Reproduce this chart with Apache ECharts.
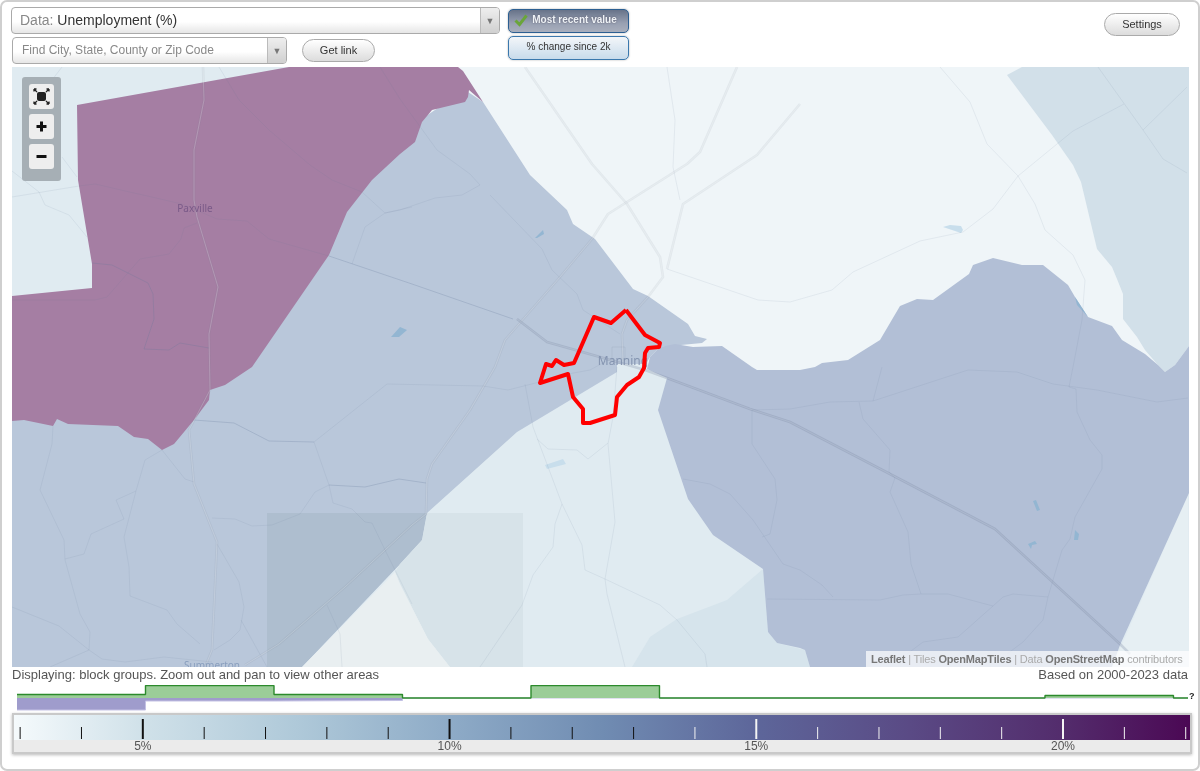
<!DOCTYPE html>
<html>
<head>
<meta charset="utf-8">
<title>Unemployment (%)</title>
<script src="https://cdn.jsdelivr.net/npm/echarts@6/dist/echarts.min.js"></script>
<style>
html, body { margin: 0; padding: 0; background: #fff; width: 1200px; height: 771px; overflow: hidden; font-family: "Liberation Sans", Arial, sans-serif; }
#frame { position: absolute; left: 0; top: 0; width: 1196px; height: 767px; border: 2px solid #cfcfcf; border-radius: 7px; }
#chart { position: absolute; left: 0; top: 0; width: 1200px; height: 771px; z-index: 2; }
.ui { position: absolute; z-index: 3; box-sizing: border-box; }
.select { border: 1px solid #aaa; border-radius: 4px; background: linear-gradient(#fff 55%, #e6e6e6); color: #888; }
.select .arrow { position: absolute; right: 0; top: 0; bottom: 0; width: 18px; border-left: 1px solid #bbb; background: linear-gradient(#eee, #d0d0d0); border-radius: 0 3px 3px 0; color: #777; font-size: 9px; text-align: center; }
.pill { border: 1px solid #aaa; border-radius: 12px; background: linear-gradient(#fff, #dcdcdc); color: #333; font-size: 11px; text-align: center; }
.toggle { border-radius: 5px; font-size: 10px; text-align: center; box-shadow: 0 0 2px #aaa; }
.zoombtn { position: absolute; left: 7px; width: 25px; height: 25px; background: #eee; border-radius: 3px; }
#colorFrame { position: absolute; left: 12px; top: 713px; width: 1176px; height: 37px; border: 2px solid #c9c9c9; background: #ebebeb; box-shadow: 0 1px 3px #bbb; z-index: 1; }
</style>
</head>
<body>
<div id="frame"></div>
<div id="colorFrame"></div>
<div id="chart"></div>

<div class="ui select" style="left:11px;top:7px;width:489px;height:27px;font-size:14px;line-height:25px;padding-left:8px;">Data: <span style="color:#333">Unemployment (%)</span><div class="arrow" style="line-height:27px;">&#9660;</div></div>
<div class="ui select" style="left:12px;top:37px;width:275px;height:27px;font-size:12px;line-height:25px;padding-left:9px;">Find City, State, County or Zip Code<div class="arrow" style="line-height:27px;">&#9660;</div></div>
<div class="ui pill" style="left:302px;top:39px;width:73px;height:23px;line-height:21px;">Get link</div>
<div class="ui toggle" style="left:508px;top:9px;width:121px;height:24px;line-height:20px;border:1.5px solid #2c5f92;background:linear-gradient(#677389,#98a0b2 60%,#a9afbd);color:#eef2f6;font-weight:bold;padding-left:12px;text-shadow:0 0 2px #556;">
  <svg width="14" height="14" viewBox="0 0 14 14" style="position:absolute;left:5px;top:3px;"><path d="M1.5 7.5 L5.5 11.5 L12.5 2.5" fill="none" stroke="#6aa53a" stroke-width="3"/></svg>Most recent value</div>
<div class="ui toggle" style="left:508px;top:36px;width:121px;height:24px;line-height:20px;border:1.5px solid #3b78ad;background:linear-gradient(#f3f6f9,#c8dbeb);color:#333;">% change since 2k</div>
<div class="ui pill" style="left:1104px;top:13px;width:76px;height:23px;line-height:21px;">Settings</div>

<div class="ui" style="left:22px;top:77px;width:39px;height:104px;background:#a6afb5;border-radius:3px;">
  <div class="zoombtn" style="top:7px;">
    <svg width="25" height="25" viewBox="0 0 25 25"><rect x="8" y="8" width="9" height="9" rx="2" fill="#222"/><path d="M5 5l3 3M5 5h2.5M5 5v2.5M20 5l-3 3M20 5h-2.5M20 5v2.5M5 20l3-3M5 20h2.5M5 20v-2.5M20 20l-3-3M20 20h-2.5M20 20v-2.5" stroke="#222" stroke-width="1.3" fill="none"/></svg>
  </div>
  <div class="zoombtn" style="top:37px;"><svg width="25" height="25" viewBox="0 0 25 25"><path d="M7.5 12.5h10M12.5 7.5v10" stroke="#111" stroke-width="3" fill="none"/></svg></div>
  <div class="zoombtn" style="top:67px;"><svg width="25" height="25" viewBox="0 0 25 25"><path d="M7.5 12.5h10" stroke="#111" stroke-width="3" fill="none"/></svg></div>
</div>

<div class="ui" style="left:866px;top:651px;width:323px;height:16px;background:rgba(255,255,255,.7);font-size:11px;letter-spacing:-0.17px;line-height:16px;padding-left:5px;color:#aaa;white-space:nowrap;">
  <b style="color:#777">Leaflet</b> | Tiles <b style="color:#777">OpenMapTiles</b> | Data <b style="color:#777">OpenStreetMap</b> contributors
</div>
<div class="ui" style="left:12px;top:667px;font-size:13px;line-height:16px;color:#555;white-space:nowrap;">Displaying: block groups. Zoom out and pan to view other areas</div>
<div class="ui" style="right:12px;top:667px;font-size:13px;line-height:16px;color:#555;white-space:nowrap;">Based on 2000-2023 data</div>
<div class="ui" style="left:1189px;top:691px;font-size:9px;line-height:11px;font-weight:bold;color:#222;">?</div>

<script>
// histogram bins, the last point closes the tail before the "?" mark
const histBins = [0, 1, 2, 3, 4, 5, 6, 7, 8, 9, 9.113]
const histPlace = [3.5, 12.4, 3.5, 0, 12.4, 0, 0, 0, 2.5, 0, 0]
const histNation = [-12, -3, -2.5, 0, 0, 0, 0, 0, 0, 0, 0]

// colour scale, in percent
const scaleStops = [2.9, 5, 7.5, 10, 12.5, 15, 17.5, 20, 22.07]
const scaleColors = ['#f5fafc', '#d0e1e9', '#afc9d9', '#8eabc7', '#708cb2', '#5d669a', '#5a4a85', '#532c6c', '#4b0854']
const scaleTicks = [3, 4, 5, 6, 7, 8, 9, 10, 11, 12, 13, 14, 15, 16, 17, 18, 19, 20, 21, 22]
const scaleLabels = [5, 10, 15, 20]

// map shapes
const baseArea = [[12, 67], [1189, 67], [1189, 667], [12, 667]]
const leftLight = [[12, 67], [300, 67], [300, 400], [12, 400]]
const bottomLight = [[617, 364], [646, 364], [667, 378], [1189, 480], [1189, 667], [300, 667], [300, 500], [500, 400]]
const eastLight = [[1188, 495], [1189, 667], [1112, 667]]
const blueArea = [[483, 102], [530, 175], [567, 210], [573, 224], [595, 239], [633, 289], [648, 296], [688, 324], [695, 336], [707, 339], [702, 343], [660, 347], [650, 357], [646, 364], [617, 364], [617, 372], [517, 432], [427, 513], [422, 540], [400, 564], [302, 667], [12, 667], [12, 400], [300, 200], [465, 90]]
const darkBlueArea = [[647, 369], [650, 357], [660, 347], [675, 344], [693, 347], [722, 346], [752, 367], [757, 370], [800, 370], [815, 367], [822, 363], [848, 360], [880, 340], [900, 306], [917, 299], [933, 300], [969, 274], [973, 265], [993, 258], [1022, 265], [1043, 265], [1068, 285], [1075, 297], [1088, 317], [1112, 326], [1122, 340], [1145, 354], [1158, 365], [1165, 372], [1175, 365], [1189, 346], [1189, 493], [1120, 645], [1112, 667], [810, 667], [805, 650], [800, 648], [777, 643], [768, 632], [763, 569], [713, 535], [688, 499], [658, 410], [667, 378]]
const southBlue = [[763, 569], [727, 600], [677, 619], [650, 637], [632, 667], [810, 667], [805, 650], [777, 643], [768, 632]]
const countyArea = [[1007, 75], [1022, 67], [1189, 67], [1189, 346], [1175, 365], [1165, 372], [1158, 365], [1145, 350], [1137, 337], [1123, 319], [1123, 294], [1117, 279], [1112, 267], [1097, 249], [1081, 182], [1073, 165], [1052, 135]]
const purpleArea = [[77, 105], [289, 67], [458, 67], [463, 71], [483, 102], [469, 90], [468, 97], [465, 102], [432, 110], [422, 122], [415, 142], [400, 154], [372, 180], [347, 212], [329, 255], [252, 367], [225, 385], [210, 390], [209, 400], [194, 420], [174, 444], [162, 450], [148, 439], [134, 437], [118, 426], [68, 424], [57, 419], [53, 426], [24, 420], [12, 421], [12, 296], [92, 288], [92, 264], [78, 180]]
const rectOverBlue = [[267, 513], [427, 513], [422, 540], [400, 564], [302, 667], [267, 667]]
const rectOverLight = [[427, 513], [523, 513], [523, 667], [450, 667], [428, 639], [400, 584], [395, 572], [400, 564], [422, 540]]
const rectOverBase = [[395, 572], [400, 584], [428, 639], [450, 667], [302, 667]]
const pondsDark = [
    [[391, 337], [400, 327], [407, 330], [399, 337]],
    [[535, 238], [543, 230], [544, 234], [537, 238]],
    [[1033, 501], [1036, 500], [1040, 510], [1037, 511]],
    [[1028, 544], [1035, 541], [1037, 544], [1032, 545], [1031, 549]],
    [[1075, 530], [1079, 534], [1078, 540], [1074, 540]],
    [[1075, 297], [1088, 317], [1077, 305]],
]
const pondsLight = [
    [[943, 227], [950, 225], [961, 226], [963, 230], [961, 233]],
    [[545, 465], [563, 459], [566, 464], [547, 469]],
]
const cityOutline = [[626, 310], [645, 335], [660, 343], [659, 347], [648, 348], [645, 353], [644, 368], [639, 377], [627, 385], [617, 397], [615, 415], [590, 423], [583, 423], [583, 409], [573, 397], [568, 374], [540, 383], [546, 364], [552, 366], [556, 360], [564, 365], [574, 363], [594, 317], [611, 323]]

// roads and boundaries
const roads = [
    [[203, 67], [204, 100], [194, 150], [194, 200], [197, 217], [218, 287], [209, 334], [210, 390], [189, 430], [194, 484], [217, 542], [212, 650], [205, 667]],
    [[525, 67], [592, 164], [627, 204], [660, 257], [663, 277], [648, 297], [627, 320], [622, 334], [623, 362]],
    [[737, 67], [700, 152], [687, 164], [627, 202], [608, 214], [592, 239], [560, 277], [505, 340], [495, 367], [470, 410], [432, 464], [427, 479], [426, 514], [412, 525], [345, 587], [279, 644], [245, 665]],
    [[800, 104], [757, 155], [683, 204], [667, 269]],
]
const highways = [
    [[517, 319], [547, 342], [600, 357], [645, 370], [667, 378], [750, 409], [790, 422], [890, 474], [995, 529], [1120, 644], [1130, 654]],
]
const strongLines = [
    [[329, 256], [412, 284], [513, 319]],
    [[92, 263], [112, 265], [148, 283], [153, 294], [154, 319], [144, 349], [169, 350], [180, 343], [209, 348]],
    [[194, 420], [234, 423], [269, 441], [314, 442]],
    [[329, 485], [365, 487], [399, 479], [426, 483]],
]
const boundaries = [
    [[12, 300], [95, 300], [107, 297], [140, 259], [169, 254], [181, 239], [184, 228], [197, 223]],
    [[12, 197], [79, 186], [95, 184], [182, 204], [217, 219], [247, 221], [269, 239], [329, 256]],
    [[219, 67], [239, 100], [269, 130], [310, 165], [332, 180], [362, 192], [385, 213], [412, 207]],
    [[380, 67], [400, 99], [437, 150], [470, 174], [480, 185], [462, 195], [435, 198], [400, 210], [385, 213], [365, 227], [352, 264]],
    [[490, 195], [542, 249], [552, 270], [577, 294], [583, 310], [620, 334]],
    [[12, 171], [39, 192], [45, 205], [69, 215], [87, 237]],
    [[62, 67], [52, 80]],
    [[62, 157], [77, 177]],
    [[12, 607], [59, 626], [89, 650], [90, 632], [80, 614], [65, 560], [64, 540], [40, 490], [52, 444], [53, 426]],
    [[65, 559], [84, 554], [91, 534], [124, 519], [116, 500], [136, 491], [145, 460], [162, 450], [185, 479], [194, 482]],
    [[136, 491], [124, 537], [129, 567], [130, 596], [167, 610], [177, 624], [200, 644]],
    [[50, 667], [89, 650], [102, 659], [125, 662], [164, 657], [212, 662]],
    [[314, 442], [387, 384], [483, 386], [508, 390], [567, 375]],
    [[314, 442], [329, 485], [333, 503], [352, 509], [365, 522], [372, 523], [385, 550], [412, 604]],
    [[329, 485], [315, 492], [300, 514], [272, 525], [252, 526], [235, 519], [212, 518]],
    [[217, 544], [239, 582], [244, 607], [240, 630], [230, 640], [214, 650]],
    [[241, 620], [267, 667]],
    [[327, 605], [340, 634], [342, 667]],
    [[525, 384], [528, 400], [533, 427], [562, 504], [582, 545], [585, 570], [605, 579], [660, 605], [677, 620], [705, 654], [707, 667]],
    [[617, 367], [613, 417], [608, 444], [615, 522], [605, 579], [607, 594], [625, 667]],
    [[562, 504], [555, 524], [553, 547], [533, 575], [522, 605], [480, 667]],
    [[537, 439], [548, 449], [577, 450], [588, 459], [608, 443]],
    [[752, 410], [752, 444], [775, 479], [777, 500], [770, 534], [762, 537]],
    [[683, 479], [710, 484], [730, 494], [753, 520], [783, 564], [800, 570], [822, 585], [833, 597]],
    [[767, 599], [880, 600], [903, 595], [921, 594], [948, 594], [993, 606], [958, 637], [923, 642], [907, 654]],
    [[752, 410], [790, 409], [830, 402], [873, 401], [968, 370], [1017, 372], [1053, 384], [1097, 390], [1157, 402], [1188, 398]],
    [[882, 367], [873, 401]],
    [[859, 402], [863, 419], [890, 450], [889, 472], [895, 478], [890, 492], [908, 532], [911, 564], [921, 594]],
    [[1073, 367], [1069, 387], [1076, 389], [1077, 412], [1090, 440], [1102, 455], [1102, 469], [1075, 517], [1070, 539], [1062, 550], [1053, 580], [1048, 597], [1043, 620], [1023, 642], [1007, 654]],
    [[993, 606], [1003, 597], [1013, 594], [1048, 597]],
    [[940, 67], [970, 102], [987, 144], [1018, 176], [993, 209], [963, 232], [920, 241], [853, 272], [832, 290], [790, 302], [758, 300], [667, 269]],
    [[1018, 176], [1035, 204], [1045, 230], [1073, 255], [1085, 280], [1082, 320], [1073, 367]],
    [[1018, 176], [1057, 144], [1073, 131], [1124, 104]],
    [[1098, 67], [1143, 130], [1163, 159], [1187, 173]],
    [[1143, 130], [1187, 87]],
    [[667, 67], [675, 120], [673, 167], [680, 200]],
    [[612, 360], [612, 347], [625, 347], [625, 360]],
    [[568, 374], [590, 370], [612, 358]],
]
const placeNames = ['Paxville', 'Manning', 'Summerton']
const placePoints = [[195, 209], [623, 362], [212, 666]]
const placeColors = ['#7a5a88', '#8494b0', '#8a9fbe']
const placeSizes = [10, 12, 10]

// one custom series per map layer, everything goes through api.coord
const polygons = (shapes, fill, z) => ({
    type: 'custom',
    coordinateSystem: 'cartesian2d',
    xAxisIndex: 0,
    yAxisIndex: 0,
    clip: true,
    silent: true,
    z: z,
    data: shapes.map((s, i) => [i]),
    renderItem: (params, api) => ({
        type: 'polygon',
        shape: { points: shapes[api.value(0)].map(p => api.coord(p)) },
        style: { fill: fill },
    }),
})

const polylines = (shapes, stroke, width, z) => ({
    type: 'custom',
    coordinateSystem: 'cartesian2d',
    xAxisIndex: 0,
    yAxisIndex: 0,
    clip: true,
    silent: true,
    z: z,
    data: shapes.map((s, i) => [i]),
    renderItem: (params, api) => ({
        type: 'polyline',
        shape: { points: shapes[api.value(0)].map(p => api.coord(p)) },
        style: { fill: null, stroke: stroke, lineWidth: width, lineJoin: 'round' },
    }),
})

const gradientStops = scaleStops.map((v, i) => ({
    offset: (v - scaleStops[0]) / (scaleStops[scaleStops.length - 1] - scaleStops[0]),
    color: scaleColors[i],
}))

const chart = echarts.init(document.getElementById('chart'), null, { renderer: 'canvas' })

chart.setOption({
    animation: false,
    backgroundColor: 'transparent',
    textStyle: { fontFamily: '"Liberation Sans", Arial, sans-serif' },
    grid: [
        { left: 12, top: 67, width: 1177, height: 600 },
        { left: 17, top: 685, width: 1171, height: 26 },
        { left: 14, top: 715, width: 1176, height: 25 },
    ],
    xAxis: [
        { gridIndex: 0, type: 'value', min: 12, max: 1189, show: false },
        { gridIndex: 1, type: 'value', min: 0, max: 9.113, show: false },
        {
            gridIndex: 2,
            type: 'value',
            min: scaleStops[0],
            max: scaleStops[scaleStops.length - 1],
            axisLine: { show: false },
            axisTick: { show: false },
            splitLine: { show: false },
            axisLabel: {
                customValues: scaleLabels,
                formatter: '{value}%',
                color: '#555',
                fontSize: 12,
                margin: 0,
                verticalAlign: 'top',
                padding: [0, 0, 0, 0],
                lineHeight: 13,
            },
        },
    ],
    yAxis: [
        { gridIndex: 0, type: 'value', min: 67, max: 667, inverse: true, show: false },
        { gridIndex: 1, type: 'value', min: -13, max: 13, show: false },
        { gridIndex: 2, type: 'value', min: 0, max: 25, show: false },
    ],
    series: [
        polygons([baseArea], '#eff5f8', 1),
        polygons([leftLight, bottomLight], '#e0ebf1', 2),
        polygons([eastLight], '#e6eff3', 2),
        polygons([southBlue], '#d6e4ec', 3),
        polygons([countyArea], '#d2e0e9', 3),
        polygons([blueArea], '#b9c7da', 4),
        polygons([darkBlueArea], '#b2bfd6', 4),
        polygons([purpleArea], '#a57ea3', 5),
        polygons([rectOverBlue], '#aebecf', 6),
        polygons([rectOverLight], '#d7e3e9', 6),
        polygons([rectOverBase], '#e9eff1', 6),
        polygons(pondsDark, '#93b6d2', 7),
        polygons(pondsLight, '#c8deec', 7),
        polylines(boundaries, 'rgba(100,120,145,0.13)', 0.8, 8),
        polylines(strongLines, 'rgba(95,115,150,0.3)', 0.8, 8),
        polylines(roads, 'rgba(115,130,150,0.11)', 2.6, 9),
        polylines(roads, 'rgba(255,255,255,0.25)', 0.8, 9),
        polylines(highways, 'rgba(110,125,150,0.25)', 2.6, 9),
        polylines(highways, 'rgba(200,210,225,0.35)', 0.8, 9),
        polylines([cityOutline.concat([cityOutline[0]])], '#ff0000', 4, 11),
        {
            type: 'custom',
            coordinateSystem: 'cartesian2d',
            xAxisIndex: 0,
            yAxisIndex: 0,
            clip: true,
            silent: true,
            z: 10,
            data: placeNames.map((n, i) => [i]),
            renderItem: (params, api) => {
                const i = api.value(0)
                const c = api.coord(placePoints[i])
                return {
                    type: 'text',
                    x: c[0],
                    y: c[1],
                    style: {
                        text: placeNames[i],
                        fill: placeColors[i],
                        fontSize: placeSizes[i],
                        fontFamily: '"Noto Sans", sans-serif',
                        align: 'center',
                        verticalAlign: 'middle',
                    },
                }
            },
        },
        {
            type: 'line',
            name: 'nation',
            xAxisIndex: 1,
            yAxisIndex: 1,
            step: 'end',
            symbol: 'none',
            z: 2,
            silent: true,
            data: histBins.map((b, i) => [b, histNation[i]]),
            lineStyle: { color: '#c3c1e4', width: 1 },
            areaStyle: { color: '#9f9ccc', opacity: 1 },
        },
        {
            type: 'line',
            name: 'place',
            xAxisIndex: 1,
            yAxisIndex: 1,
            step: 'end',
            symbol: 'none',
            z: 3,
            silent: true,
            data: histBins.map((b, i) => [b, histPlace[i]]),
            lineStyle: { color: '#2c8a2c', width: 1.4 },
            areaStyle: { color: '#9bcd98', opacity: 1 },
        },
        {
            type: 'custom',
            xAxisIndex: 2,
            yAxisIndex: 2,
            silent: true,
            z: 2,
            data: [[scaleStops[0], scaleStops[scaleStops.length - 1]]],
            renderItem: (params, api) => {
                const a = api.coord([api.value(0), 25])
                const b = api.coord([api.value(1), 0])
                return {
                    type: 'rect',
                    shape: { x: a[0], y: a[1], width: b[0] - a[0], height: b[1] - a[1] },
                    style: { fill: new echarts.graphic.LinearGradient(0, 0, 1, 0, gradientStops) },
                }
            },
        },
        {
            type: 'custom',
            xAxisIndex: 2,
            yAxisIndex: 2,
            silent: true,
            z: 3,
            data: scaleTicks.map(v => [v]),
            renderItem: (params, api) => {
                const v = api.value(0)
                const top = api.coord([v, v % 5 === 0 ? 21 : 13])
                const bottom = api.coord([v, 1])
                return {
                    type: 'line',
                    shape: { x1: top[0], y1: top[1], x2: bottom[0], y2: bottom[1] },
                    style: { stroke: v <= 13 ? '#111' : '#f4f4f4', lineWidth: v % 5 === 0 ? 2 : 1 },
                }
            },
        },
    ],
})
</script>
</body>
</html>
